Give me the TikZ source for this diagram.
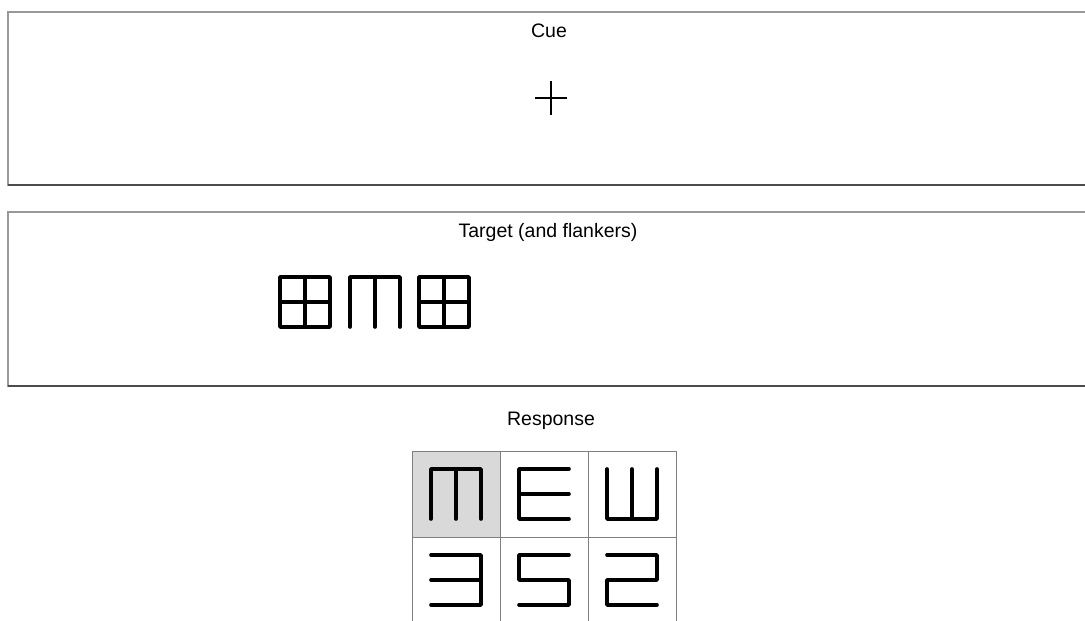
\documentclass[tikz,border=0pt]{standalone}
\usepackage{fontspec}
\setmainfont{Liberation Sans}
\usepackage{xcolor}
\usetikzlibrary{positioning}

\begin{document}
\begin{tikzpicture}[
  x=1pt,y=-1pt,
  panel/.style={draw=black!40,line width=1.2pt,anchor=north west,minimum width=1090pt,inner sep=0pt,outer sep=0pt},
  shadow line/.style={draw=black!70,line width=1.6pt},
  caption/.style={anchor=base,font=\fontsize{19.5}{22}\selectfont},
  cell/.style={draw=black!50,line width=0.9pt,minimum width=88pt,minimum height=86pt,inner sep=0pt,outer sep=0pt},
  glyph stroke/.style={line width=3.6pt,line join=round,line cap=round},
  glyph grid/.pic={\draw[glyph stroke] (-25,-25) rectangle (25,25) (0,-25) -- (0,25) (-25,0) -- (25,0);},
  glyph m/.pic={\draw[glyph stroke] (-25,25) -- (-25,-25) -- (25,-25) -- (25,25) (0,-25) -- (0,25);},
  glyph e/.pic={\draw[glyph stroke] (25,-25) -- (-25,-25) -- (-25,25) -- (25,25) (-25,0) -- (25,0);},
  glyph w/.pic={\draw[glyph stroke] (-25,-25) -- (-25,25) -- (25,25) -- (25,-25) (0,-25) -- (0,25);},
  glyph three/.pic={\draw[glyph stroke] (-25,-25) -- (25,-25) -- (25,25) -- (-25,25) (-25,0) -- (25,0);},
  glyph five/.pic={\draw[glyph stroke] (25,-25) -- (-25,-25) -- (-25,0) -- (25,0) -- (25,25) -- (-25,25);},
  glyph two/.pic={\draw[glyph stroke] (-25,-25) -- (25,-25) -- (25,0) -- (-25,0) -- (-25,25) -- (25,25);}
]
\useasboundingbox (0,0) rectangle (1085,621);

% cue panel
\node[panel,minimum height=173pt] (cuepanel) at (8,12) {};
\draw[shadow line] (cuepanel.south west) -- (cuepanel.south east);
\node[caption] (cuelabel) at (549,37) {Cue};
\coordinate (fix) at (551,98);
\draw[line width=1.8pt] ([xshift=-16pt]fix) -- ([xshift=16pt]fix) ([yshift=17pt]fix) -- ([yshift=-17pt]fix);

% target panel
\node[panel,minimum height=174pt] (targetpanel) at (8,212) {};
\draw[shadow line] (targetpanel.south west) -- (targetpanel.south east);
\node[caption] (targetlabel) at (548,237) {Target (and flankers)};
\pic (flankleft) at (305,302) {glyph grid};
\pic (target) at (375,302) {glyph m};
\pic (flankright) at (444,302) {glyph grid};

% response grid
\node[caption] (resplabel) at (551,425) {Response};
\node[cell,fill=gray!30] (cellm) at (456,494) {};
\node[cell,right=0pt of cellm] (celle) {};
\node[cell,right=0pt of celle] (cellw) {};
\node[cell,below=0pt of cellm] (cellthree) {};
\node[cell,right=0pt of cellthree] (cellfive) {};
\node[cell,right=0pt of cellfive] (celltwo) {};
\pic at (cellm) {glyph m};
\pic at (celle) {glyph e};
\pic at (cellw) {glyph w};
\pic at (cellthree) {glyph three};
\pic at (cellfive) {glyph five};
\pic at (celltwo) {glyph two};
\end{tikzpicture}
\end{document}
